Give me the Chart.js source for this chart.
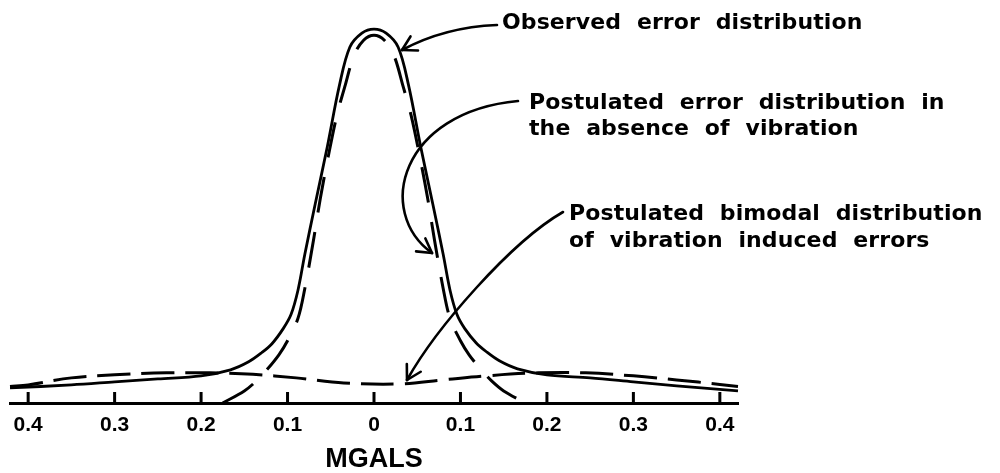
<!DOCTYPE html>
<html>
<head>
<meta charset="utf-8">
<title>Error distributions</title>
<script src="https://cdn.jsdelivr.net/npm/chart.js@4.4.1/dist/chart.umd.min.js"></script>
<style>
  html, body { margin: 0; padding: 0; background: #fff; }
  #wrap { width: 1000px; height: 473px; }
</style>
</head>
<body>
<div id="wrap"><canvas id="errChart" width="1000" height="473"></canvas></div>
<script>
// Error in mGal (x) against relative frequency (y)
const observedX = [-0.421, -0.35, -0.3, -0.25, -0.2, -0.166, -0.145, -0.13, -0.118, -0.105, -0.096, -0.088, -0.08, -0.068, -0.054, -0.04, -0.028, -0.014, 0,
                   0.014, 0.028, 0.04, 0.054, 0.068, 0.08, 0.088, 0.096, 0.105, 0.118, 0.13, 0.145, 0.166, 0.2, 0.25, 0.3, 0.35, 0.421];
const observedY = [0.15, 0.18, 0.21, 0.24, 0.27, 0.33, 0.41, 0.50, 0.59, 0.74, 0.88, 1.12, 1.48, 1.98, 2.55, 3.16, 3.54, 3.68, 3.72,
                   3.68, 3.54, 3.16, 2.55, 1.98, 1.48, 1.12, 0.88, 0.74, 0.60, 0.51, 0.42, 0.34, 0.28, 0.25, 0.21, 0.17, 0.12];

// no-vibration distribution
const quietX = [-0.175, -0.15, -0.136, -0.124, -0.11, -0.1, -0.088, -0.08, -0.07, -0.062, -0.053, -0.043, -0.034, -0.023, -0.012, 0,
                0.012, 0.023, 0.034, 0.043, 0.053, 0.062, 0.07, 0.08, 0.088, 0.1, 0.11, 0.124, 0.136, 0.15, 0.175];
const quietY = [0, 0.12, 0.22, 0.33, 0.48, 0.62, 0.84, 1.14, 1.62, 2.04, 2.45, 2.86, 3.14, 3.46, 3.61, 3.66,
                3.61, 3.46, 3.14, 2.86, 2.45, 2.04, 1.62, 1.14, 0.84, 0.62, 0.48, 0.33, 0.22, 0.12, 0];

// bimodal vibration-induced errors
const vibrationX = [-0.421, -0.4, -0.35, -0.3, -0.24, -0.19, -0.14, -0.09, -0.035, 0.03, 0.08, 0.13, 0.19, 0.245, 0.3, 0.35, 0.4, 0.421];
const vibrationY = [0.165, 0.18, 0.25, 0.28, 0.30, 0.30, 0.285, 0.25, 0.20, 0.19, 0.23, 0.27, 0.30, 0.30, 0.27, 0.23, 0.185, 0.165];

const tickValues = [-0.4, -0.3, -0.2, -0.1, 0, 0.1, 0.2, 0.3, 0.4];
const tickLabels = ['0.4', '0.3', '0.2', '0.1', '0', '0.1', '0.2', '0.3', '0.4'];
const axisTitle = 'MGALS';

// captions: text, left, middle
const captions = [
  ['Observed error distribution', 502, 23],
  ['Postulated error distribution in', 529, 103],
  ['the absence of vibration', 529, 129],
  ['Postulated bimodal distribution', 569, 214],
  ['of vibration induced errors', 569, 241]
];

// leader arrows, last point is the tip
const arrows = [
  [[497, 25], [445, 27], [402, 50]],
  [[518, 101], [400, 112], [375, 212], [432, 253]],
  [[563, 212], [511, 242], [436, 328], [407, 380]]
];

const toPoints = (xs, ys) => xs.map((x, i) => ({ x: x, y: ys[i] }));

// lettering with a little extra room between words
function drawSpaced(ctx, text, x, y) {
  const letterGap = 0.1;
  const wordGap = 8;
  let cx = x;
  text.split('').forEach(c => {
    ctx.fillText(c, cx, y);
    cx += ctx.measureText(c).width + letterGap + (c === ' ' ? wordGap : 0);
  });
}

const notesPlugin = {
  id: 'notes',
  afterDraw(chart) {
    const ctx = chart.ctx;
    const xs = chart.scales.x;
    const base = chart.chartArea.bottom;
    ctx.save();
    ctx.strokeStyle = '#000';
    ctx.fillStyle = '#000';

    // tick marks stand up from the axis
    tickValues.forEach(v => {
      const px = xs.getPixelForValue(v);
      ctx.fillRect(px - 1.5, base - 11, 3, 11);
    });

    // arrows
    ctx.lineCap = 'round';
    ctx.lineWidth = 2.6;
    arrows.forEach(p => {
      ctx.beginPath();
      ctx.moveTo(p[0][0], p[0][1]);
      if (p.length === 3) ctx.quadraticCurveTo(p[1][0], p[1][1], p[2][0], p[2][1]);
      else ctx.bezierCurveTo(p[1][0], p[1][1], p[2][0], p[2][1], p[3][0], p[3][1]);
      ctx.stroke();
      const tip = p[p.length - 1];
      const prev = p[p.length - 2];
      const ang = Math.atan2(prev[1] - tip[1], prev[0] - tip[0]);
      [-0.52, 0.52].forEach(d => {
        ctx.beginPath();
        ctx.moveTo(tip[0], tip[1]);
        ctx.lineTo(tip[0] + 16 * Math.cos(ang + d), tip[1] + 16 * Math.sin(ang + d));
        ctx.stroke();
      });
    });

    // captions
    ctx.font = 'bold 22px "DejaVu Sans", sans-serif';
    ctx.textBaseline = 'middle';
    ctx.textAlign = 'left';
    captions.forEach(c => drawSpaced(ctx, c[0], c[1], c[2]));
    ctx.restore();
  }
};

new Chart(document.getElementById('errChart'), {
  type: 'line',
  data: {
    datasets: [
      {
        label: 'Observed error distribution',
        data: toPoints(observedX, observedY),
        borderColor: '#000',
        borderWidth: 2.8
      },
      {
        label: 'Postulated error distribution in the absence of vibration',
        data: toPoints(quietX, quietY),
        borderColor: '#000',
        borderWidth: 3,
        borderDash: [36, 20]
      },
      {
        label: 'Postulated bimodal distribution of vibration induced errors',
        data: toPoints(vibrationX, vibrationY),
        borderColor: '#000',
        borderWidth: 3,
        borderDash: [33, 11]
      }
    ]
  },
  options: {
    responsive: false,
    animation: false,
    layout: { padding: { left: 10, right: 262, top: 1, bottom: 0 } },
    elements: {
      point: { radius: 0 },
      line: { tension: 0.35, fill: false, borderCapStyle: 'butt' }
    },
    datasets: { line: { clip: false } },
    plugins: { legend: { display: false }, tooltip: { enabled: false } },
    scales: {
      x: {
        type: 'linear',
        min: -0.421,
        max: 0.421,
        afterBuildTicks: s => { s.ticks = tickValues.map(v => ({ value: v })); },
        afterFit: s => { s.height = 70; },
        grid: { display: false, drawTicks: false },
        border: { display: true, color: '#000', width: 3 },
        ticks: {
          padding: 10,
          color: '#000',
          font: { family: '"Liberation Sans", Arial, sans-serif', size: 21, weight: 'bold' },
          callback: (v, i) => tickLabels[i]
        },
        title: {
          display: true,
          text: axisTitle,
          color: '#000',
          padding: { top: 0, bottom: 0 },
          font: { family: '"Liberation Sans", Arial, sans-serif', size: 27, weight: 'bold', lineHeight: 1 }
        }
      },
      y: { display: false, min: 0, max: 4 }
    }
  },
  plugins: [notesPlugin]
});
</script>
</body>
</html>
